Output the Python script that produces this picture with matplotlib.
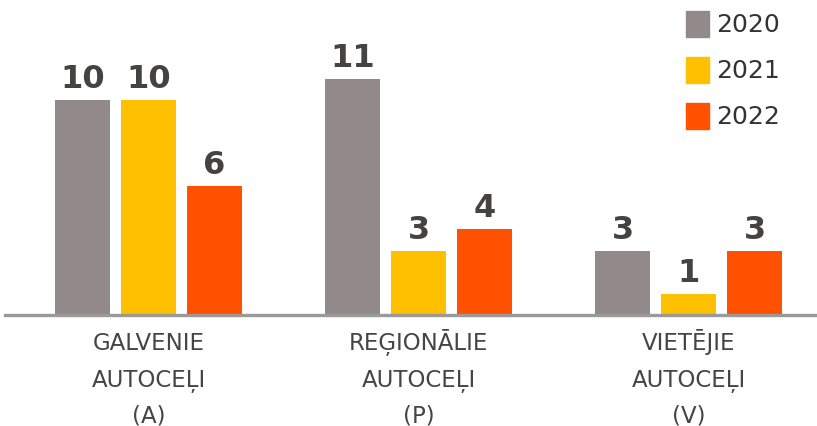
import matplotlib
matplotlib.use("Agg")
import matplotlib.pyplot as plt
import numpy as np

categories = [["GALVENIE", "AUTOCEĻI", "(A)"],
              ["REĢIONĀLIE", "AUTOCEĻI", "(P)"],
              ["VIETĒJIE", "AUTOCEĻI", "(V)"]]
years = ["2020", "2021", "2022"]
values = {
    "2020": [10, 11, 3],
    "2021": [10, 3, 1],
    "2022": [6, 4, 3],
}
colors = ["#918a89", "#ffc000", "#ff5100"]

W, H = 817, 427
fig = plt.figure(figsize=(W / 100, H / 100), dpi=100)
base_px = 316
ax = fig.add_axes([0, (H - base_px) / H, 1, base_px / H])
unit_px = 270.0
x0_px = 148.5
ax.set_xlim(-x0_px / unit_px, (W - x0_px) / unit_px)
px_per_val = 21.5
ax.set_ylim(0, base_px / px_per_val)
ax.axis("off")

x = np.arange(len(categories))
bw = 55 / unit_px
off = 66 / unit_px
for i, (yr, c) in enumerate(zip(years, colors)):
    xs = x + (i - 1) * off
    ax.bar(xs, values[yr], width=bw, color=c, zorder=2)
    for xi, v in zip(xs, values[yr]):
        ax.annotate(str(v), (xi, v), xytext=(0, 4), textcoords="offset points",
                    ha="center", va="bottom", fontsize=23, fontweight="bold",
                    color="#454242", family="DejaVu Sans")

ax.axhline(0, xmin=5 / W, xmax=1, color="#9a9a9a", lw=2.4, zorder=3, clip_on=False)

line_y = [350, 387, 423]
for xi, lines in zip(x, categories):
    xf = (x0_px + xi * unit_px) / W
    for ln, py in zip(lines, line_y):
        fig.text(xf, 1 - py / H, ln, ha="center", va="baseline", fontsize=16.5,
                 color="#454545", family="DejaVu Sans")

# legend
leg_y = [25, 71, 117]
for yr, c, py in zip(years, colors, leg_y):
    fig.patches.append(plt.Rectangle((686 / W, 1 - (py + 13) / H), 23 / W, 26 / H,
                                     transform=fig.transFigure, color=c, figure=fig))
    fig.text(716 / W, 1 - py / H, yr, ha="left", va="center", fontsize=18,
             color="#333333", family="DejaVu Sans")

fig.savefig("out.png", dpi=100)
